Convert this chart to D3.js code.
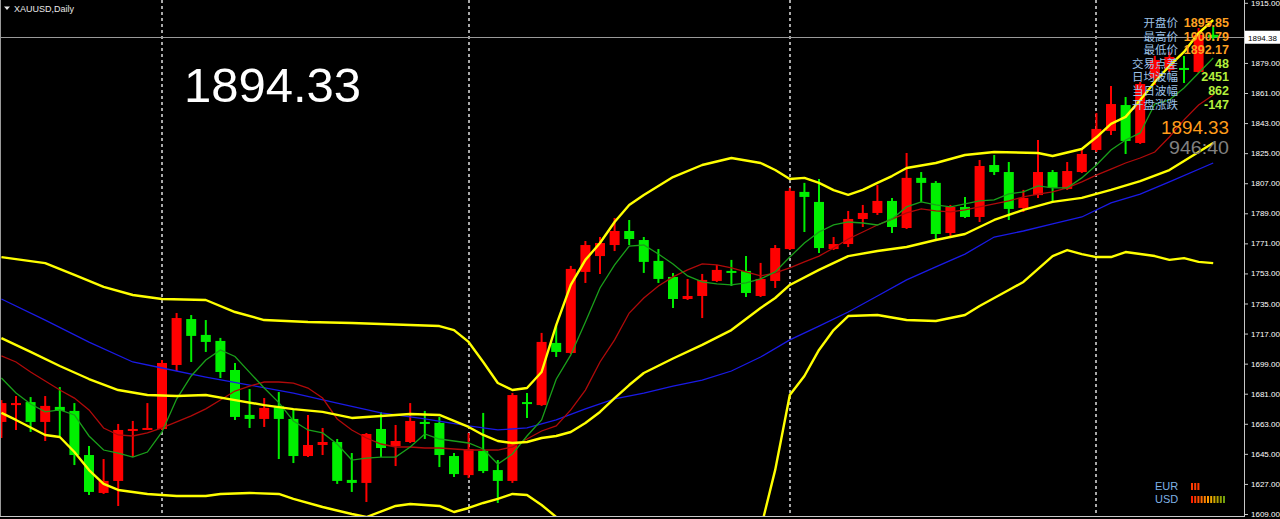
<!DOCTYPE html>
<html><head><meta charset="utf-8">
<script src="https://cdn.jsdelivr.net/npm/d3@7"></script>
<style>html,body{margin:0;padding:0;background:#000;overflow:hidden}svg{display:block}</style>
</head><body><svg id="c" width="1280" height="519"></svg>
<script>
// ---------- data ----------
const symbolTitle = "XAUUSD,Daily";
const bigPrice = "1894.33";
const timerText = "946:40";
const bidLabel = "1894.38";
const bidPrice = 1894.38;

const open  = [1664.1,1674.2,1676.0,1664.1,1673.1,1670.7,1644.3,1621.6,1628.8,1658.7,1659.6,1659.9,1698.2,1725.7,1716.2,1712.6,1695.2,1668.3,1665.9,1673.7,1665.9,1643.7,1650.3,1652.1,1629.4,1627.6,1659.9,1649.7,1652.1,1664.1,1663.5,1643.7,1632.3,1646.7,1635.3,1628.8,1676.0,1674.2,1711.4,1705.4,1753.9,1763.4,1770.0,1778.4,1773.0,1760.5,1750.9,1737.7,1739.5,1748.5,1754.5,1754.5,1739.5,1748.5,1767.6,1801.8,1795.8,1767.6,1770.6,1785.6,1789.2,1796.4,1780.2,1810.2,1807.2,1777.2,1792.8,1786.8,1817.9,1813.7,1792.2,1799.9,1813.7,1803.6,1813.7,1826.9,1838.3,1853.8,1831.1,1870.0,1874.8,1876.0,1873.6,1895.85];
const high  = [1677.2,1679.6,1679.0,1679.6,1685.0,1675.4,1649.7,1641.9,1662.9,1664.7,1675.4,1701.2,1729.3,1728.1,1725.1,1714.4,1699.4,1683.8,1678.4,1682.0,1671.3,1668.3,1660.5,1653.9,1645.5,1657.5,1670.1,1662.3,1675.4,1670.7,1667.1,1645.5,1657.5,1669.5,1641.3,1681.4,1681.4,1717.4,1722.1,1757.5,1772.4,1774.8,1786.2,1785.0,1774.8,1767.6,1753.3,1749.7,1752.7,1758.1,1761.1,1763.4,1759.3,1770.0,1804.2,1807.2,1809.5,1774.8,1790.4,1794.0,1805.9,1798.2,1825.1,1813.7,1808.3,1794.0,1798.8,1820.9,1823.9,1819.7,1803.0,1832.9,1814.9,1819.7,1827.5,1849.0,1865.2,1858.6,1867.6,1883.2,1885.6,1883.2,1899.9,1900.79];
const low   = [1654.5,1659.3,1658.1,1652.7,1655.7,1638.3,1620.4,1621.0,1613.8,1643.1,1659.3,1659.3,1694.6,1700.0,1706.0,1690.4,1665.3,1660.5,1661.1,1641.9,1639.5,1643.1,1644.3,1627.0,1622.2,1616.2,1643.1,1637.7,1651.5,1653.9,1637.1,1631.1,1630.5,1633.5,1615.6,1627.6,1666.5,1673.7,1703.0,1704.8,1747.3,1752.7,1766.4,1770.0,1753.3,1747.3,1732.3,1737.1,1726.3,1747.9,1745.5,1738.9,1738.9,1744.3,1767.0,1777.8,1765.2,1767.0,1768.8,1780.8,1788.0,1777.2,1779.6,1795.8,1773.6,1774.2,1786.2,1783.8,1811.9,1785.0,1789.8,1798.2,1795.8,1803.0,1813.1,1825.7,1835.9,1824.5,1830.5,1865.8,1873.6,1867.0,1873.0,1892.17];
const close = [1675.4,1675.4,1664.1,1673.7,1670.7,1644.3,1622.2,1628.8,1659.3,1659.9,1660.5,1699.4,1726.3,1715.6,1712.0,1694.0,1667.1,1665.9,1672.5,1665.9,1643.7,1650.3,1652.1,1628.8,1627.6,1656.9,1648.5,1652.7,1664.7,1662.9,1644.3,1632.9,1647.9,1634.7,1628.8,1680.2,1674.8,1712.0,1706.0,1755.7,1770.0,1771.2,1778.4,1773.6,1759.9,1749.7,1737.7,1739.5,1749.1,1755.1,1753.3,1741.3,1749.7,1768.2,1802.4,1798.8,1768.2,1770.6,1785.6,1789.2,1796.4,1780.8,1810.2,1807.2,1776.6,1792.8,1786.8,1817.3,1813.7,1791.6,1798.2,1813.7,1804.2,1814.3,1824.5,1839.5,1854.4,1832.3,1866.4,1880.8,1882.6,1875.4,1895.85,1894.33];

// fast moving average (green), one value per bar
const maFast = [1690.4,1681.4,1674.8,1670.1,1671.3,1668.3,1655.7,1647.3,1645.5,1643.1,1646.1,1658.1,1677.8,1691.6,1701.2,1707.2,1703.3,1693.8,1684.4,1675.7,1664.7,1659.3,1657.5,1650.9,1641.3,1642.5,1643.1,1643.1,1649.1,1656.9,1653.9,1652.7,1651.5,1647.9,1638.9,1644.9,1655.7,1665.3,1689.7,1704.2,1723.9,1744.3,1758.1,1769.4,1770.0,1764.6,1758.7,1751.5,1747.9,1746.7,1746.1,1747.3,1749.7,1753.9,1762.8,1771.2,1777.8,1782.0,1783.8,1783.2,1782.0,1785.6,1792.8,1795.8,1794.0,1792.8,1794.6,1796.4,1797.0,1800.6,1801.8,1805.4,1804.2,1804.2,1810.2,1817.9,1826.9,1832.9,1837.1,1854.4,1856.8,1864.0,1873.0,1882.0];
// medium moving average (dark red), one value per bar
const maMid = [1703.6,1700.0,1694.0,1688.6,1683.2,1678.4,1671.3,1660.5,1656.3,1655.7,1657.5,1660.5,1664.1,1667.7,1671.9,1677.2,1682.6,1685.6,1688.0,1688.0,1687.4,1684.4,1678.4,1665.9,1659.3,1654.5,1650.9,1649.1,1649.1,1648.5,1648.5,1647.9,1647.3,1647.3,1647.3,1649.1,1653.9,1658.7,1661.7,1671.3,1683.2,1700.0,1713.2,1729.3,1738.3,1745.5,1750.9,1755.1,1758.7,1758.1,1756.3,1754.0,1751.5,1753.3,1756.3,1759.9,1763.4,1768.2,1773.6,1777.8,1782.0,1785.5,1789.2,1791.6,1790.4,1789.8,1791.0,1792.8,1794.6,1796.4,1798.8,1800.5,1801.8,1804.2,1807.8,1811.9,1815.5,1819.1,1822.1,1825.7,1834.7,1844.9,1853.8,1859.8];
// slow moving average (blue): [bar, value]
const maSlow = [[0,1737.7],[3,1725.1],[6,1711.9],[9,1700.0],[11,1696.4],[14,1691.0],[17,1686.2],[20,1681.4],[23,1675.4],[26,1669.5],[29,1665.9],[32,1661.7],[34,1659.3],[36,1660.5],[38,1665.3],[40,1671.9],[42,1677.9],[44,1681.4],[46,1685.6],[48,1689.2],[50,1694.6],[52,1703.0],[54,1713.2],[56,1721.5],[58,1729.9],[60,1739.5],[62,1749.1],[64,1756.9],[66,1764.6],[68,1774.8],[70,1778.4],[72,1782.6],[74,1786.8],[76,1795.2],[78,1800.5],[80,1807.8],[83,1819.1]];
// Bollinger bands (yellow): [bar, value]
const bbUpper = [[0,1762.8],[3,1759.2],[5,1752.1],[7,1744.9],[9,1740.1],[11,1737.7],[14,1737.1],[16,1729.9],[18,1725.1],[21,1723.9],[24,1723.3],[28,1722.1],[30,1721.5],[31,1719.1],[32,1712.0],[33,1700.0],[34,1687.4],[35,1683.2],[36,1684.4],[37,1694.0],[38,1722.1],[39,1746.1],[40,1761.1],[41,1771.2],[42,1783.8],[43,1794.0],[44,1800.0],[46,1810.7],[48,1817.9],[50,1822.1],[52,1819.1],[53,1814.9],[54,1809.5],[55,1810.2],[56,1807.2],[57,1802.9],[58,1800.0],[59,1803.0],[60,1807.2],[61,1811.3],[62,1816.1],[64,1819.1],[66,1823.9],[68,1825.7],[71,1825.1],[72,1823.3],[74,1827.5],[75,1834.5],[76,1842.5],[77,1846.7],[78,1856.8],[79,1867.6],[80,1877.2],[81,1885.6],[82,1896.9],[83,1904.7]];
const bbMiddle = [[0,1714.3],[2,1706.0],[4,1697.6],[6,1689.8],[8,1683.2],[10,1680.2],[12,1679.6],[14,1680.2],[16,1677.2],[18,1674.2],[20,1671.8],[22,1670.1],[24,1666.5],[26,1667.7],[28,1668.9],[30,1668.3],[32,1661.1],[33,1656.3],[34,1652.7],[35,1651.5],[36,1652.1],[37,1654.5],[38,1655.7],[39,1658.1],[40,1663.5],[41,1670.1],[42,1678.4],[43,1686.2],[44,1693.4],[46,1702.1],[48,1710.2],[50,1719.1],[52,1732.3],[53,1738.3],[54,1746.1],[56,1755.1],[58,1763.4],[60,1766.4],[62,1768.8],[64,1773.0],[66,1776.6],[68,1785.0],[70,1791.0],[72,1795.8],[74,1798.2],[76,1803.0],[78,1808.3],[80,1814.9],[82,1825.7],[83,1831.1]];
const bbLower = [[0,1669.5],[1,1665.3],[3,1656.3],[4,1655.1],[5,1646.1],[6,1635.3],[7,1627.0],[8,1623.4],[10,1621.0],[12,1619.8],[14,1619.8],[15,1621.0],[17,1621.6],[19,1621.0],[20,1618.0],[22,1613.2],[24,1609.0],[25,1607.2],[27,1613.8],[28,1615.0],[30,1613.8],[31,1610.2],[32,1612.6],[33,1615.6],[34,1618.0],[35,1621.0],[36,1620.4],[37,1614.4],[38,1607.2],[39,1575],[40,1566],[42,1573],[44,1587],[46,1594],[48,1598],[50,1600],[52,1600],[53,1635.4],[54,1680.2],[55,1691.6],[56,1707.2],[57,1719.1],[58,1727.5],[60,1728.1],[62,1725.1],[64,1724.5],[66,1728.1],[67,1733.5],[69,1743.1],[70,1747.9],[72,1763.4],[73,1767.0],[74,1764.6],[75,1762.8],[76,1762.8],[77,1765.8],[79,1763.4],[80,1761.1],[81,1762.2],[82,1759.9],[83,1759.2]];

const yTicks = [1915,1897,1879,1861,1843,1825,1807,1789,1771,1753,1735,1717,1699,1681,1663,1645,1627,1609];
const periodStarts = [11,32,54,75];

const infoLabels = ["开盘价","最高价","最低价","交易点差","日均波幅","当日波幅","开盘涨跌"];
const infoValues = ["1895.85","1900.79","1892.17","48","2451","862","-147"];
const legendNames = ["EUR","USD"];
const legendBars = [3,11];

// ---------- drawing ----------
const W = 1280, H = 519, plotR = 1244, plotB = 516;
const svg = d3.select("#c");
svg.append("rect").attr("width",W).attr("height",H).attr("fill","#000");

const x = d3.scaleLinear().domain([0,83]).range([1.4,1213.2]);
const y = d3.scaleLinear().domain([1609,1915]).range([514,2.8]);

svg.append("defs").append("clipPath").attr("id","clip")
  .append("rect").attr("x",0).attr("y",0).attr("width",plotR).attr("height",plotB);

const plot = svg.append("g").attr("clip-path","url(#clip)");

// period separators
plot.selectAll("line.sep").data(periodStarts).join("line")
  .attr("x1",d=>Math.round(x(d))).attr("x2",d=>Math.round(x(d)))
  .attr("y1",0).attr("y2",plotB)
  .attr("stroke","#a8a8a8").attr("stroke-width",2).attr("stroke-dasharray","3,3");

// bid price line
plot.append("line").attr("x1",0).attr("x2",plotR)
  .attr("y1",Math.round(y(bidPrice))+0.5).attr("y2",Math.round(y(bidPrice))+0.5)
  .attr("stroke","#9a9a9a").attr("stroke-width",1);

// candles
const idx = d3.range(open.length);
const col = i => close[i] >= open[i] ? "#ff0000" : "#00f000";
plot.selectAll("line.wick").data(idx).join("line")
  .attr("x1",i=>x(i)).attr("x2",i=>x(i))
  .attr("y1",i=>y(high[i])).attr("y2",i=>y(low[i]))
  .attr("stroke",col).attr("stroke-width",2);
plot.selectAll("rect.body").data(idx).join("rect")
  .attr("x",i=>x(i)-5).attr("width",10)
  .attr("y",i=>y(Math.max(open[i],close[i])))
  .attr("height",i=>Math.max(2,Math.abs(y(open[i])-y(close[i]))))
  .attr("fill",col);

// indicator lines
const linePairs = d3.line().x(d=>x(d[0])).y(d=>y(d[1]));
const lineSeries = d3.line().x((d,i)=>x(i)).y(d=>y(d));
plot.append("path").attr("d",linePairs(maSlow)).attr("fill","none").attr("stroke","#1a1ae6").attr("stroke-width",1.3);
plot.append("path").attr("d",lineSeries(maMid)).attr("fill","none").attr("stroke","#b00a0a").attr("stroke-width",1.3);
plot.append("path").attr("d",lineSeries(maFast)).attr("fill","none").attr("stroke","#1aa01a").attr("stroke-width",1.3);
[bbUpper,bbMiddle,bbLower].forEach(s=>{
  plot.append("path").attr("d",linePairs(s)).attr("fill","none").attr("stroke","#ffff00").attr("stroke-width",2.4).attr("stroke-linejoin","round");
});

// borders
svg.append("line").attr("x1",plotR+0.5).attr("x2",plotR+0.5).attr("y1",0).attr("y2",plotB+1).attr("stroke","#c8c8c8");
svg.append("line").attr("x1",0).attr("x2",plotR+1).attr("y1",plotB+0.5).attr("y2",plotB+0.5).attr("stroke","#c8c8c8");
svg.append("line").attr("x1",0.5).attr("x2",0.5).attr("y1",0).attr("y2",plotB).attr("stroke","#9a9a9a");

// price axis
const axis = d3.axisRight(y).tickValues(yTicks).tickFormat(d3.format(".2f")).tickSize(4).tickSizeOuter(0).tickPadding(3);
const ax = svg.append("g").attr("transform",`translate(${plotR},0)`).call(axis);
ax.select(".domain").remove();
ax.selectAll(".tick line").attr("stroke","#c8c8c8");
ax.selectAll(".tick text").attr("fill","#ffffff").style("font-family","'Liberation Sans', Arial, sans-serif").style("font-size","8px");

// bid label box (covers the 1897.00 label as in the original)
svg.append("rect").attr("x",plotR+1).attr("y",y(bidPrice)-6.5).attr("width",W-plotR-1).attr("height",13).attr("fill","#ffffff");
svg.append("text").attr("x",plotR+4).attr("y",y(bidPrice)+3.5).text(bidLabel)
  .attr("fill","#000").style("font-family","'Liberation Sans', Arial, sans-serif").style("font-size","8px");

// title
svg.append("path").attr("d","M4,6.5 L10,6.5 L7,10 Z").attr("fill","#e8e8e8");
svg.append("text").attr("x",14).attr("y",11.5).text(symbolTitle)
  .attr("fill","#e8e8e8").style("font-family","'Liberation Sans', Arial, sans-serif").style("font-size","9px");

// big white price
svg.append("text").attr("x",184).attr("y",102).text(bigPrice)
  .attr("fill","#ffffff").style("font-family","'Liberation Sans', Arial, sans-serif").style("font-size","49px");

// info panel
const rowY = i => 27 + i*13.6;
svg.selectAll("text.lab").data(infoLabels).join("text")
  .attr("x",1178).attr("y",(d,i)=>rowY(i)).attr("text-anchor","end").text(d=>d)
  .attr("fill","#9cc2e8").style("font-family","'Noto Sans CJK SC', sans-serif").style("font-size","11.5px");
svg.selectAll("text.val").data(infoValues).join("text")
  .attr("x",1229).attr("y",(d,i)=>rowY(i)).attr("text-anchor","end").text(d=>d)
  .attr("fill",(d,i)=> i<3 ? "#ffa020" : "#b4f03c")
  .style("font-family","'Liberation Sans', Arial, sans-serif").style("font-size","12.5px").style("font-weight","bold");

svg.append("text").attr("x",1229).attr("y",134).attr("text-anchor","end").text(bigPrice)
  .attr("fill","#ff9c1a").style("font-family","'Liberation Sans', Arial, sans-serif").style("font-size","18px")
  .attr("textLength",68).attr("lengthAdjust","spacingAndGlyphs");
svg.append("text").attr("x",1229).attr("y",154).attr("text-anchor","end").text(timerText)
  .attr("fill","#808080").style("font-family","'Liberation Sans', Arial, sans-serif").style("font-size","18px")
  .attr("textLength",60).attr("lengthAdjust","spacingAndGlyphs");

// currency strength legend
const usdColors = ["#ff2000","#ff3a00","#ff5200","#ff6a00","#ff8400","#ff9a00","#f0a800","#d0a800","#b0a000","#90a000","#70a010"];
legendNames.forEach((n,k)=>{
  const by = 490 + k*13;
  svg.append("text").attr("x",1155).attr("y",by).text(n)
    .attr("fill","#7fb2e6").style("font-family","'Liberation Sans', Arial, sans-serif").style("font-size","11px");
  d3.range(legendBars[k]).forEach(j=>{
    svg.append("rect").attr("x",1191 + j*3.2).attr("y",by-7).attr("width",2).attr("height",7)
      .attr("fill", k===0 ? "#ff3a00" : usdColors[j]);
  });
});
</script>
</body></html>
